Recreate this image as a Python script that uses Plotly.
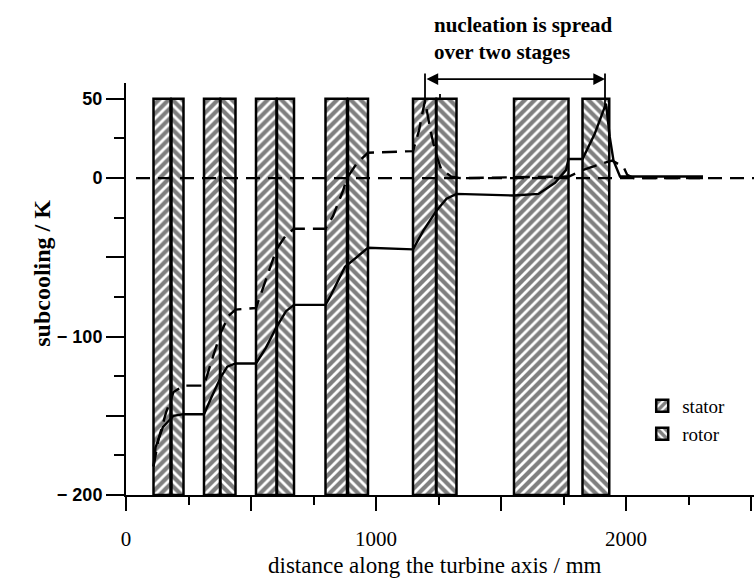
import plotly.graph_objects as go

# Blade rows along the axis (mm): stator and rotor leading / trailing edges
stator_start = [110, 312, 520, 798, 1148, 1552]
stator_end = [178, 376, 602, 884, 1240, 1770]
rotor_start = [182, 378, 604, 888, 1242, 1826]
rotor_end = [230, 438, 672, 968, 1322, 1933]
blade_top = 50
blade_root = -200

# Subcooling along the axis (K), two cases
solid_x = [110, 118, 148, 176, 190, 230, 312, 340, 378, 405, 438, 520, 560, 602, 640,
           672, 798, 816, 876, 922, 968, 1148, 1190, 1240, 1282, 1322, 1552, 1650, 1716,
           1760, 1770, 1826, 1875, 1920, 1935, 1950, 1976, 2308]
solid_y = [-182, -170, -157, -152, -150, -149, -149, -139, -126, -119, -117, -117, -107, -94, -84,
           -80, -80, -75, -56, -50, -44, -45, -33, -21, -13, -10, -11, -10, -3,
           5, 12, 12, 28, 47, 26, 11, 1, 1]

dashed_x = [110, 130, 160, 190, 230, 312, 345, 378, 410, 438, 520, 560, 602, 640, 672,
            798, 828, 868, 884, 922, 968, 1148, 1172, 1196, 1218, 1238, 1260, 1300, 1336,
            1772, 1826, 1900, 1945, 1990, 2005, 2030, 2308]
dashed_y = [-182, -165, -148, -135, -131, -131, -114, -98, -87, -83, -82, -64, -45, -36, -32,
            -32, -24, -8, 0, 9, 16, 17, 30, 49, 30, 16, 6, 1, 0,
            1, 5, 9, 11, 7, 2, 0, 0]

zero_x = [40, 2512]
zero_y = [0, 0]

# Span of the two nucleating stages and the height of the bracket above it
span_start, span_end, span_level = 1196, 1916, 62.5

x_range = [0, 2512]
y_range = [-200, 60]
x_ticks = [0, 500, 1000, 1500, 2000, 2500]
x_labels = ["0", "", "1000", "", "2000", ""]
y_ticks = [-200, -150, -100, -50, 0, 50]
y_labels = ["\u2212 200", "", "\u2212 100", "", "0", "50"]

W, H = 754, 582
M = dict(l=126, r=0, t=83, b=87)
plot_w = W - M["l"] - M["r"]

serif = "Liberation Serif"
sans = "Liberation Sans"


def blade_trace(starts, ends, name, shape, legend):
    centers = [(a + b) / 2 for a, b in zip(starts, ends)]
    widths = [b - a for a, b in zip(starts, ends)]
    return go.Bar(
        x=centers, width=widths, y=[blade_top - blade_root] * len(starts), base=blade_root,
        name=name, legend=legend,
        marker=dict(color="white", line=dict(color="black", width=2.5),
                    pattern=dict(shape=shape, fgcolor="black", bgcolor="white",
                                 size=7, solidity=0.6)),
        hoverinfo="skip",
    )


fig = go.Figure()
fig.add_trace(blade_trace(stator_start, stator_end, "stator", "/", "legend"))
fig.add_trace(blade_trace(rotor_start, rotor_end, "rotor", "\\", "legend2"))

fig.add_trace(go.Scatter(x=zero_x, y=zero_y, mode="lines", showlegend=False,
                         line=dict(color="black", width=2.2, dash="14px,8px")))
fig.add_trace(go.Scatter(x=dashed_x, y=dashed_y, mode="lines", showlegend=False,
                         line=dict(color="black", width=2.4, dash="15px,8px")))
fig.add_trace(go.Scatter(x=solid_x, y=solid_y, mode="lines", showlegend=False,
                         line=dict(color="black", width=2.4)))


def to_paper_x(v):
    return (v - x_range[0]) / (x_range[1] - x_range[0])


def to_paper_y(v):
    return (v - y_range[0]) / (y_range[1] - y_range[0])


px_per_mm = plot_w / (x_range[1] - x_range[0])

annotations = [
    # double-headed arrow marking the two nucleating stages
    dict(x=to_paper_x(span_end), y=to_paper_y(span_level), xref="paper", yref="paper",
         ax=-(span_end - span_start) * px_per_mm, ay=0,
         text="", showarrow=True, arrowhead=2, startarrowhead=2, arrowside="end+start",
         arrowwidth=1.8, arrowsize=1.3, startarrowsize=1.3, arrowcolor="black"),
    dict(x=span_start, y=47, ax=span_start, ay=67, axref="x", ayref="y", xref="x", yref="y",
         text="", showarrow=True, arrowhead=0, arrowwidth=1.8, arrowcolor="black"),
    dict(x=span_end, y=46, ax=span_end, ay=67, axref="x", ayref="y", xref="x", yref="y",
         text="", showarrow=True, arrowhead=0, arrowwidth=1.8, arrowcolor="black"),
    dict(x=1256, y=50, ax=1256, ay=54, axref="x", ayref="y", xref="x", yref="y",
         text="", showarrow=True, arrowhead=0, arrowwidth=1.8, arrowcolor="black"),
    dict(x=0.487, y=1.175, xref="paper", yref="paper", xanchor="left", yanchor="top",
         align="left", showarrow=False,
         text="<b>nucleation is spread<br>over two stages</b>",
         font=dict(family=serif, size=21, color="black")),
    # axis titles
    dict(x=0.492, y=-0.172, xref="paper", yref="paper", xanchor="center", yanchor="middle",
         showarrow=False, text="distance along the turbine axis / mm",
         font=dict(family=serif, size=23, color="black")),
    dict(x=-0.134, y=0.539, xref="paper", yref="paper", xanchor="center", yanchor="middle",
         showarrow=False, textangle=-90, text="<b>subcooling / K</b>",
         font=dict(family=serif, size=24, color="black")),
]

fig.update_layout(
    width=W, height=H,
    margin=M,
    paper_bgcolor="white", plot_bgcolor="white",
    barmode="overlay",
    annotations=annotations,
    legend=dict(x=0.822, y=0.216, xanchor="left", yanchor="middle",
                font=dict(family=serif, size=19, color="black"), bgcolor="rgba(0,0,0,0)"),
    legend2=dict(x=0.822, y=0.148, xanchor="left", yanchor="middle",
                 font=dict(family=serif, size=19, color="black"), bgcolor="rgba(0,0,0,0)"),
    xaxis=dict(range=x_range, showline=True, linecolor="black", linewidth=2,
               showgrid=False, zeroline=False, ticks="outside", ticklen=14, tickwidth=2,
               tickcolor="black", tickmode="array", tickvals=x_ticks, ticktext=x_labels,
               ticklabelstandoff=10,
               tickfont=dict(family=serif, size=21, color="black"),
               minor=dict(ticks="outside", dtick=250, tick0=0, ticklen=8, tickwidth=2,
                          tickcolor="black")),
    yaxis=dict(range=y_range, showline=True, linecolor="black", linewidth=2,
               showgrid=False, zeroline=False, ticks="outside", ticklen=18, tickwidth=2,
               tickcolor="black", tickmode="array", tickvals=y_ticks, ticktext=y_labels,
               tickfont=dict(family=sans, size=18, color="black", weight="bold"),
               minor=dict(ticks="outside", dtick=25, tick0=0, ticklen=10, tickwidth=2,
                          tickcolor="black")),
)

fig.write_html("out.html")
